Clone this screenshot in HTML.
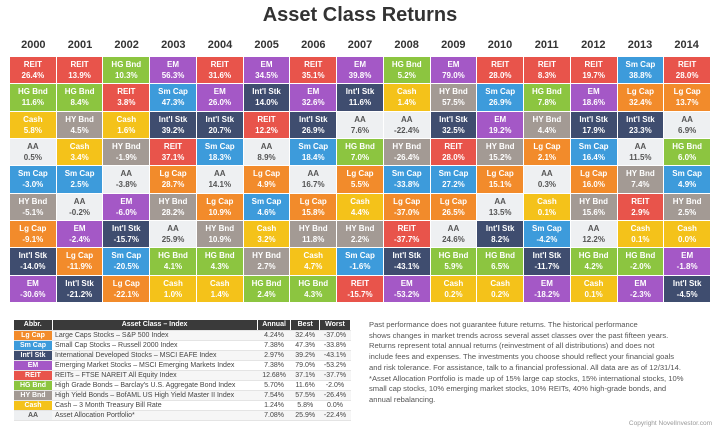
<!DOCTYPE html>
<html><head><meta charset="utf-8"><style>
*{margin:0;padding:0;box-sizing:border-box}
body{width:720px;height:433px;background:#fff;font-family:"Liberation Sans",sans-serif;position:relative;overflow:hidden}
.t{position:absolute;top:4px;left:0;width:720px;text-align:center;font-size:20px;font-weight:bold;color:#333}
.yrs{position:absolute;top:39px;left:10px;width:700px;display:grid;grid-template-columns:repeat(15,1fr)}
.yrs div{text-align:center;font-size:11px;font-weight:bold;color:#333}
.g{position:absolute;top:57px;left:10px;width:700px;height:245px;display:grid;grid-template-columns:repeat(15,1fr);grid-template-rows:repeat(9,1fr);grid-auto-flow:column;gap:1px;background:#fff}
.g div{display:flex;align-items:center;justify-content:center;text-align:center;color:#fff;font-size:8px;font-weight:bold;line-height:11px}
.R{background:#e8544b}.H{background:#8cc540}.C{background:#f4c21a}.A{background:#eef0f2;color:#555!important}.S{background:#3d9bdb}.Y{background:#a39a94}.L{background:#f28b2b}.I{background:#3f4d6f}.E{background:#a458c6}
table{position:absolute;top:320px;left:14px;width:337px;border-collapse:collapse;font-size:7px;color:#444}
td,th{height:10px;padding:0 3px;border-bottom:1px solid #e4e4e4;white-space:nowrap}
th{background:#3a3a3a;color:#fff;font-weight:bold;text-align:center;border-right:1px solid #fff}
td.a{color:#fff;text-align:center;font-weight:bold;width:38px}
td.n{text-align:center}
tr:nth-child(even) td{background:#f6f6f6}
tr td.a.L{background:#f28b2b}tr td.a.S{background:#3d9bdb}tr td.a.I{background:#3f4d6f}tr td.a.E{background:#a458c6}tr td.a.R{background:#e8544b}tr td.a.H{background:#8cc540}tr td.a.Y{background:#a39a94}tr td.a.C{background:#f4c21a}tr td.a.A{background:#eef0f2}
.p{position:absolute;top:320px;left:369px;width:350px;font-size:7.6px;line-height:10.7px;color:#555;white-space:nowrap}
.cp{position:absolute;top:420px;right:8px;font-size:6.5px;color:#999}
</style></head><body>
<div class="t">Asset Class Returns</div>
<div class="yrs"><div>2000</div><div>2001</div><div>2002</div><div>2003</div><div>2004</div><div>2005</div><div>2006</div><div>2007</div><div>2008</div><div>2009</div><div>2010</div><div>2011</div><div>2012</div><div>2013</div><div>2014</div></div>
<div class="g">
<div class="R">REIT<br>26.4%</div><div class="H">HG Bnd<br>11.6%</div><div class="C">Cash<br>5.8%</div><div class="A">AA<br>0.5%</div><div class="S">Sm Cap<br>-3.0%</div><div class="Y">HY Bnd<br>-5.1%</div><div class="L">Lg Cap<br>-9.1%</div><div class="I">Int'l Stk<br>-14.0%</div><div class="E">EM<br>-30.6%</div>
<div class="R">REIT<br>13.9%</div><div class="H">HG Bnd<br>8.4%</div><div class="Y">HY Bnd<br>4.5%</div><div class="C">Cash<br>3.4%</div><div class="S">Sm Cap<br>2.5%</div><div class="A">AA<br>-0.2%</div><div class="E">EM<br>-2.4%</div><div class="L">Lg Cap<br>-11.9%</div><div class="I">Int'l Stk<br>-21.2%</div>
<div class="H">HG Bnd<br>10.3%</div><div class="R">REIT<br>3.8%</div><div class="C">Cash<br>1.6%</div><div class="Y">HY Bnd<br>-1.9%</div><div class="A">AA<br>-3.8%</div><div class="E">EM<br>-6.0%</div><div class="I">Int'l Stk<br>-15.7%</div><div class="S">Sm Cap<br>-20.5%</div><div class="L">Lg Cap<br>-22.1%</div>
<div class="E">EM<br>56.3%</div><div class="S">Sm Cap<br>47.3%</div><div class="I">Int'l Stk<br>39.2%</div><div class="R">REIT<br>37.1%</div><div class="L">Lg Cap<br>28.7%</div><div class="Y">HY Bnd<br>28.2%</div><div class="A">AA<br>25.9%</div><div class="H">HG Bnd<br>4.1%</div><div class="C">Cash<br>1.0%</div>
<div class="R">REIT<br>31.6%</div><div class="E">EM<br>26.0%</div><div class="I">Int'l Stk<br>20.7%</div><div class="S">Sm Cap<br>18.3%</div><div class="A">AA<br>14.1%</div><div class="L">Lg Cap<br>10.9%</div><div class="Y">HY Bnd<br>10.9%</div><div class="H">HG Bnd<br>4.3%</div><div class="C">Cash<br>1.4%</div>
<div class="E">EM<br>34.5%</div><div class="I">Int'l Stk<br>14.0%</div><div class="R">REIT<br>12.2%</div><div class="A">AA<br>8.9%</div><div class="L">Lg Cap<br>4.9%</div><div class="S">Sm Cap<br>4.6%</div><div class="C">Cash<br>3.2%</div><div class="Y">HY Bnd<br>2.7%</div><div class="H">HG Bnd<br>2.4%</div>
<div class="R">REIT<br>35.1%</div><div class="E">EM<br>32.6%</div><div class="I">Int'l Stk<br>26.9%</div><div class="S">Sm Cap<br>18.4%</div><div class="A">AA<br>16.7%</div><div class="L">Lg Cap<br>15.8%</div><div class="Y">HY Bnd<br>11.8%</div><div class="C">Cash<br>4.7%</div><div class="H">HG Bnd<br>4.3%</div>
<div class="E">EM<br>39.8%</div><div class="I">Int'l Stk<br>11.6%</div><div class="A">AA<br>7.6%</div><div class="H">HG Bnd<br>7.0%</div><div class="L">Lg Cap<br>5.5%</div><div class="C">Cash<br>4.4%</div><div class="Y">HY Bnd<br>2.2%</div><div class="S">Sm Cap<br>-1.6%</div><div class="R">REIT<br>-15.7%</div>
<div class="H">HG Bnd<br>5.2%</div><div class="C">Cash<br>1.4%</div><div class="A">AA<br>-22.4%</div><div class="Y">HY Bnd<br>-26.4%</div><div class="S">Sm Cap<br>-33.8%</div><div class="L">Lg Cap<br>-37.0%</div><div class="R">REIT<br>-37.7%</div><div class="I">Int'l Stk<br>-43.1%</div><div class="E">EM<br>-53.2%</div>
<div class="E">EM<br>79.0%</div><div class="Y">HY Bnd<br>57.5%</div><div class="I">Int'l Stk<br>32.5%</div><div class="R">REIT<br>28.0%</div><div class="S">Sm Cap<br>27.2%</div><div class="L">Lg Cap<br>26.5%</div><div class="A">AA<br>24.6%</div><div class="H">HG Bnd<br>5.9%</div><div class="C">Cash<br>0.2%</div>
<div class="R">REIT<br>28.0%</div><div class="S">Sm Cap<br>26.9%</div><div class="E">EM<br>19.2%</div><div class="Y">HY Bnd<br>15.2%</div><div class="L">Lg Cap<br>15.1%</div><div class="A">AA<br>13.5%</div><div class="I">Int'l Stk<br>8.2%</div><div class="H">HG Bnd<br>6.5%</div><div class="C">Cash<br>0.2%</div>
<div class="R">REIT<br>8.3%</div><div class="H">HG Bnd<br>7.8%</div><div class="Y">HY Bnd<br>4.4%</div><div class="L">Lg Cap<br>2.1%</div><div class="A">AA<br>0.3%</div><div class="C">Cash<br>0.1%</div><div class="S">Sm Cap<br>-4.2%</div><div class="I">Int'l Stk<br>-11.7%</div><div class="E">EM<br>-18.2%</div>
<div class="R">REIT<br>19.7%</div><div class="E">EM<br>18.6%</div><div class="I">Int'l Stk<br>17.9%</div><div class="S">Sm Cap<br>16.4%</div><div class="L">Lg Cap<br>16.0%</div><div class="Y">HY Bnd<br>15.6%</div><div class="A">AA<br>12.2%</div><div class="H">HG Bnd<br>4.2%</div><div class="C">Cash<br>0.1%</div>
<div class="S">Sm Cap<br>38.8%</div><div class="L">Lg Cap<br>32.4%</div><div class="I">Int'l Stk<br>23.3%</div><div class="A">AA<br>11.5%</div><div class="Y">HY Bnd<br>7.4%</div><div class="R">REIT<br>2.9%</div><div class="C">Cash<br>0.1%</div><div class="H">HG Bnd<br>-2.0%</div><div class="E">EM<br>-2.3%</div>
<div class="R">REIT<br>28.0%</div><div class="L">Lg Cap<br>13.7%</div><div class="A">AA<br>6.9%</div><div class="H">HG Bnd<br>6.0%</div><div class="S">Sm Cap<br>4.9%</div><div class="Y">HY Bnd<br>2.5%</div><div class="C">Cash<br>0.0%</div><div class="E">EM<br>-1.8%</div><div class="I">Int'l Stk<br>-4.5%</div>
</div>
<table>
<tr><th>Abbr.</th><th>Asset Class – Index</th><th>Annual</th><th>Best</th><th>Worst</th></tr>
<tr><td class="a L">Lg Cap</td><td>Large Caps Stocks – S&amp;P 500 Index</td><td class="n">4.24%</td><td class="n">32.4%</td><td class="n">-37.0%</td></tr>
<tr><td class="a S">Sm Cap</td><td>Small Cap Stocks – Russell 2000 Index</td><td class="n">7.38%</td><td class="n">47.3%</td><td class="n">-33.8%</td></tr>
<tr><td class="a I">Int'l Stk</td><td>International Developed Stocks – MSCI EAFE Index</td><td class="n">2.97%</td><td class="n">39.2%</td><td class="n">-43.1%</td></tr>
<tr><td class="a E">EM</td><td>Emerging Market Stocks – MSCI Emerging Markets Index</td><td class="n">7.38%</td><td class="n">79.0%</td><td class="n">-53.2%</td></tr>
<tr><td class="a R">REIT</td><td>REITs – FTSE NAREIT All Equity Index</td><td class="n">12.68%</td><td class="n">37.1%</td><td class="n">-37.7%</td></tr>
<tr><td class="a H">HG Bnd</td><td>High Grade Bonds – Barclay's U.S. Aggregate Bond Index</td><td class="n">5.70%</td><td class="n">11.6%</td><td class="n">-2.0%</td></tr>
<tr><td class="a Y">HY Bnd</td><td>High Yield Bonds – BofAML US High Yield Master II Index</td><td class="n">7.54%</td><td class="n">57.5%</td><td class="n">-26.4%</td></tr>
<tr><td class="a C">Cash</td><td>Cash – 3 Month Treasury Bill Rate</td><td class="n">1.24%</td><td class="n">5.8%</td><td class="n">0.0%</td></tr>
<tr><td class="a A" style="color:#444">AA</td><td>Asset Allocation Portfolio*</td><td class="n">7.08%</td><td class="n">25.9%</td><td class="n">-22.4%</td></tr>
</table>
<div class="p">Past performance does not guarantee future returns. The historical performance<br>shows changes in market trends across several asset classes over the past fifteen years.<br>Returns represent total annual returns (reinvestment of all distributions) and does not<br>include fees and expenses. The investments you choose should reflect your financial goals<br>and risk tolerance. For assistance, talk to a financial professional. All data are as of 12/31/14.<br>*Asset Allocation Portfolio is made up of 15% large cap stocks, 15% international stocks, 10%<br>small cap stocks, 10% emerging market stocks, 10% REITs, 40% high-grade bonds, and<br>annual rebalancing.</div>
<div class="cp">Copyright NovelInvestor.com</div>
</body></html>
